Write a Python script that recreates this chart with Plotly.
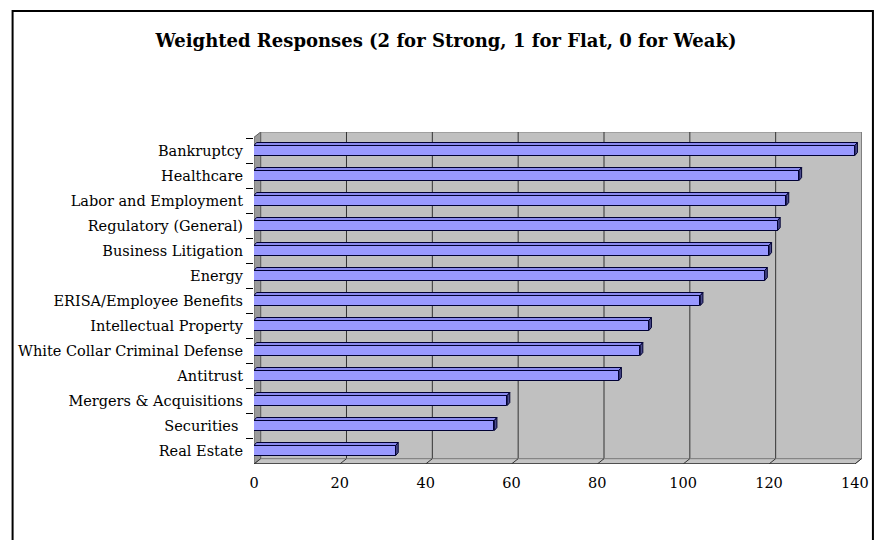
import plotly.graph_objects as go

# ---- data (top to bottom as shown) ----
categories = ["Bankruptcy", "Healthcare", "Labor and Employment", "Regulatory (General)",
              "Business Litigation", "Energy", "ERISA/Employee Benefits",
              "Intellectual Property", "White Collar Criminal Defense", "Antitrust",
              "Mergers & Acquisitions", "Securities ", "Real Estate"]
values = [140, 127, 124, 122, 120, 119, 104, 92, 90, 85, 59, 56, 33]
x_ticks = [0, 20, 40, 60, 80, 100, 120, 140]
title_text = "<b>Weighted Responses (2 for Strong, 1 for Flat, 0 for Weak)</b>"

# ---- layout geometry (pixels) ----
W, H = 881, 540
L, R, T, B = 254, 866, 132, 464
PXU = 4.32            # pixels per x unit
PYU = 25.0            # pixels per category
XMAX = (R - L) / PXU
Y_TOP = -0.74
Y_BOT = 12.54
DX = 6.7 / PXU        # wall depth in x units
DY = 5.3 / PYU        # wall depth in category units
BW = 0.4              # bar thickness
BDX = 2.6 / PXU       # bar depth
BDY = 3.0 / PYU
AX_MAX = x_ticks[-1]

FONT = "DejaVu Serif"

fig = go.Figure()
fig.add_trace(go.Bar(
    x=values, y=categories, orientation="h",
    width=BW, offset=-BW / 2,
    marker=dict(color="#9999FF", line=dict(color="#000033", width=1)),
    hoverinfo="x+y", showlegend=False,
))

shapes = []
floor_back = Y_BOT - DY
# back wall
shapes.append(dict(type="rect", xref="x", yref="y", x0=DX, x1=AX_MAX + DX,
                   y0=floor_back, y1=Y_TOP, fillcolor="#C0C0C0",
                   line=dict(color="#808080", width=1), layer="below"))
# gridlines on back wall
for v in x_ticks[1:-1]:
    shapes.append(dict(type="line", xref="x", yref="y", x0=v + DX, x1=v + DX,
                       y0=floor_back, y1=Y_TOP, line=dict(color="#333333", width=1),
                       layer="below"))
# left side wall
shapes.append(dict(type="path", xref="x", yref="y",
                   path=f"M 0,{Y_BOT} L {DX},{floor_back} L {DX},{Y_TOP} L 0,{Y_TOP + DY} Z",
                   fillcolor="#9A9A9A", line=dict(color="#606060", width=1), layer="below"))
# floor
shapes.append(dict(type="path", xref="x", yref="y",
                   path=f"M 0,{Y_BOT} L {AX_MAX},{Y_BOT} L {AX_MAX + DX},{floor_back} L {DX},{floor_back} Z",
                   fillcolor="#C4C4C4", line=dict(color="#808080", width=1), layer="below"))
# floor division lines
for v in x_ticks:
    shapes.append(dict(type="line", xref="x", yref="y", x0=v, x1=v + DX,
                       y0=Y_BOT, y1=floor_back, line=dict(color="#333333", width=1),
                       layer="below"))
# front floor edge (axis line)
shapes.append(dict(type="line", xref="x", yref="y", x0=0, x1=AX_MAX,
                   y0=Y_BOT, y1=Y_BOT, line=dict(color="#333333", width=1.5),
                   layer="below"))

# 3D faces of bars
for i, v in enumerate(values):
    top = i - BW / 2
    bot = i + BW / 2
    shapes.append(dict(type="path", xref="x", yref="y",
                       path=f"M 0,{top} L {v},{top} L {v + BDX},{top - BDY} L {BDX},{top - BDY} Z",
                       fillcolor="#8A8AEE", line=dict(color="#000033", width=1), layer="above"))
    shapes.append(dict(type="path", xref="x", yref="y",
                       path=f"M {v},{top} L {v + BDX},{top - BDY} L {v + BDX},{bot - BDY} L {v},{bot} Z",
                       fillcolor="#4C4C8C", line=dict(color="#000033", width=1), layer="above"))

# outer chart border
pw, ph = (R - L), (B - T)
shapes.append(dict(type="rect", xref="paper", yref="paper",
                   x0=(11 - L) / pw, x1=(877 - L) / pw,
                   y0=(B - 570) / ph, y1=(B - 11) / ph,
                   line=dict(color="black", width=2), fillcolor="rgba(0,0,0,0)", layer="above"))

fig.update_layout(
    width=W, height=H,
    margin=dict(l=L, r=W - R, t=T, b=H - B, pad=0),
    paper_bgcolor="white", plot_bgcolor="rgba(0,0,0,0)",
    title=dict(text=title_text, x=446 / W, xanchor="center", xref="container",
               y=1 - 41 / H, yref="container", yanchor="middle",
               font=dict(family=FONT, size=18, color="black")),
    shapes=shapes,
    bargap=0,
    xaxis=dict(range=[0, XMAX], tickvals=x_ticks, ticktext=[str(t) for t in x_ticks],
               showgrid=False, zeroline=False, showline=False, ticks="",
               ticklabelstandoff=8,
               tickfont=dict(family=FONT, size=14.5, color="black"), fixedrange=True),
    yaxis=dict(type="category", categoryorder="array", categoryarray=categories,
               range=[Y_BOT, Y_TOP], showgrid=False, zeroline=False, showline=False,
               ticks="outside", tickson="boundaries", ticklen=7, tickcolor="black",
               tickwidth=1, ticklabelstandoff=10,
               tickfont=dict(family=FONT, size=14.5, color="black"), fixedrange=True),
)

fig.write_html("out.html")
